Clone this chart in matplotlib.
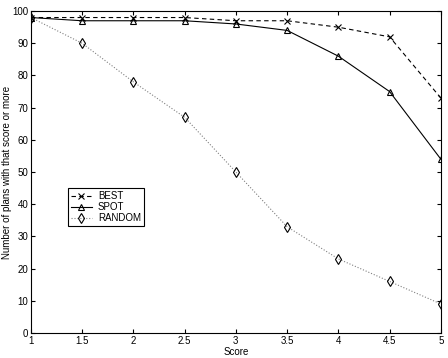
import matplotlib
matplotlib.use('Agg')
import matplotlib.pyplot as plt

# scores on the x axis
score = [1, 1.5, 2, 2.5, 3, 3.5, 4, 4.5, 5]

# number of plans with that score or more
best = [98, 98, 98, 98, 97, 97, 95, 92, 73]
spot = [98, 97, 97, 97, 96, 94, 86, 75, 54]
random_plans = [98, 90, 78, 67, 50, 33, 23, 16, 9]

plt.rc('font', family='Liberation Sans')
plt.rc('font', size=7)

fig = plt.figure(figsize=(4.48, 3.58), dpi=100)
ax = fig.add_axes([0.069, 0.07, 0.915, 0.899])

ax.plot(score, best, 'k--', marker='x', ms=4, mew=0.8, lw=0.8, dashes=(4, 3), label='BEST')
ax.plot(score, spot, 'k-', marker='^', ms=5, mfc='none', mew=0.8, lw=0.8, label='SPOT')
ax.plot(score, random_plans, ':', color='gray', marker='d', ms=5.5, mfc='none', mec='k', mew=0.8, lw=0.8, label='RANDOM')

ax.set_xlim(1, 5)
ax.set_ylim(0, 100)
ax.set_xticks(score)
ax.set_xticklabels(['1', '1.5', '2', '2.5', '3', '3.5', '4', '4.5', '5'])
ax.set_yticks(range(0, 101, 10))
ax.tick_params(direction='in', top=True, right=True, length=3, width=0.8, pad=2)
for s in ax.spines.values():
    s.set_linewidth(0.8)

ax.set_xlabel('Score', labelpad=1)
ax.set_ylabel('Number of plans with that score or more')
ax.yaxis.set_label_coords(-0.045, 0.5)

leg = ax.legend(loc='upper left', bbox_to_anchor=(0.09, 0.45), borderaxespad=0,
                fancybox=False, edgecolor='k', framealpha=1, handlelength=2.2,
                handletextpad=0.6, labelspacing=0.1, borderpad=0.3)
leg.get_frame().set_linewidth(0.8)

plt.savefig('out.png', dpi=100)
